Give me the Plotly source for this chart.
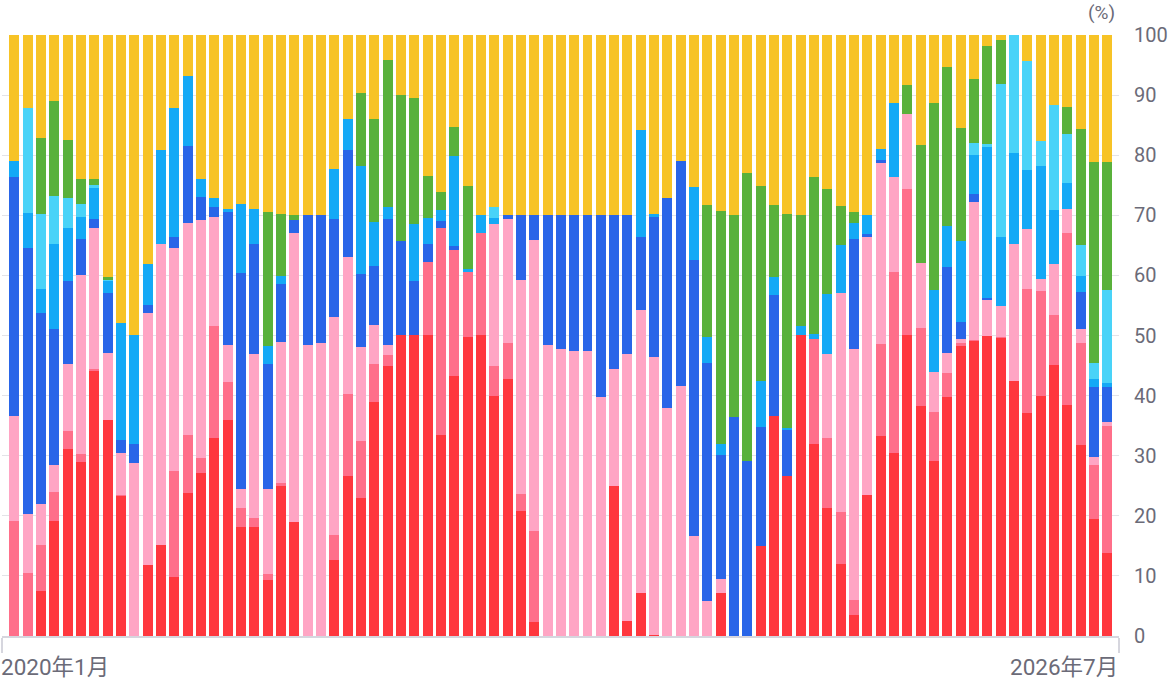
import plotly.graph_objects as go

# 83 periods, only the first and last are labelled on the chart
periods = list(range(83))
first_label = "2020年1月"
last_label = "2026年7月"

red = [0, 0, 7.5, 19.2, 31.1, 29.0, 44.1, 36.0, 23.3, 0,
       11.8, 15.2, 9.8, 23.8, 27.2, 33.0, 35.9, 18.2, 18.2, 9.4,
       25.0, 18.9, 0, 0, 12.6, 26.6, 23.0, 38.9, 45.0, 50.1,
       50.1, 50.1, 33.4, 43.3, 49.7, 50.1, 39.9, 42.8, 20.8, 2.3,
       0, 0, 0, 0, 0, 24.9, 2.5, 7.1, 0.2, 0,
       0, 0, 0, 7.1, 0, 0, 15.0, 36.6, 26.6, 50.1,
       31.9, 21.3, 12.0, 3.5, 23.5, 33.2, 30.5, 50.1, 38.2, 29.2,
       39.7, 48.2, 49.1, 50.0, 49.7, 42.5, 37.1, 39.9, 45.1, 38.5,
       31.8, 19.4, 13.8]

salmon = [19.1, 10.5, 7.6, 4.8, 3.0, 1.3, 0.4, 0, 0.2, 0,
          0, 0, 17.7, 9.6, 2.5, 18.5, 6.3, 3.1, 1.4, 0.9,
          0.4, 0, 0, 0, 4.2, 13.7, 9.5, 6.3, 1.8, 0,
          0, 12.1, 34.5, 20.9, 10.8, 17.0, 5.1, 6.0, 2.9, 15.1,
          0, 0, 0, 0, 0, 0, 0, 0, 0, 0,
          0, 0, 0, 0, 0, 0, 0, 0, 0, 0,
          17.5, 11.6, 8.6, 2.5, 0, 15.4, 30.1, 24.2, 13.1, 8.0,
          4.0, 0.6, 0.2, 0, 0.1, 0, 20.7, 17.5, 8.3, 28.5,
          17.0, 9.1, 21.2]

pink = [17.5, 9.8, 6.9, 4.5, 11.1, 29.8, 23.4, 11.1, 6.9, 28.8,
        42.0, 50.1, 37.1, 35.3, 39.6, 18.2, 6.3, 3.2, 27.3, 14.2,
        23.5, 48.2, 48.5, 48.7, 36.3, 22.8, 15.6, 6.6, 1.6, 0,
        0, 0, 0, 0, 0, 0, 23.5, 20.6, 35.6, 48.5,
        48.5, 47.7, 47.5, 47.5, 39.8, 19.5, 44.5, 47.1, 46.3, 37.9,
        41.6, 16.6, 5.8, 2.4, 0, 0, 0, 0, 0, 0,
        0, 14.0, 36.5, 41.7, 42.9, 30.1, 15.8, 12.6, 10.7, 6.8,
        3.4, 0.7, 22.9, 6.0, 5.1, 22.8, 9.9, 2.0, 8.5, 4.0,
        2.3, 1.3, 0.6]

blue = [39.7, 44.3, 31.8, 22.5, 13.9, 6.0, 1.5, 10.0, 2.2, 3.1,
        1.2, 0, 1.8, 12.8, 3.7, 1.7, 22.1, 35.9, 18.4, 20.7,
        9.6, 2.2, 21.5, 21.3, 16.3, 17.7, 12.1, 9.8, 21.0, 15.6,
        8.9, 3.1, 1.2, 0.7, 0, 0, 0, 0.6, 10.7, 4.1,
        21.5, 22.3, 22.5, 22.5, 30.2, 25.6, 23.0, 12.2, 23.3, 34.9,
        37.4, 45.9, 39.7, 20.7, 36.4, 29.2, 19.7, 20.1, 7.6, 0,
        0, 0, 0, 18.4, 0.5, 0.5, 0, 0, 0, 0,
        14.3, 2.7, 1.3, 0.2, 0, 0, 0, 0, 0, 0,
        6.2, 11.6, 5.8]

light_blue = [2.8, 5.8, 4.0, 14.3, 8.8, 3.7, 5.2, 2.0, 19.4, 18.2,
              6.9, 15.6, 21.5, 11.7, 3.1, 1.4, 0.4, 11.5, 5.7, 3.0,
              1.4, 0, 0, 0, 8.3, 5.2, 18.0, 7.3, 1.9, 0,
              9.5, 4.2, 1.8, 14.9, 0.6, 2.9, 1.1, 0, 0, 0,
              0, 0, 0, 0, 0, 0, 0, 17.8, 0.5, 0,
              0, 12.2, 4.2, 1.7, 0, 0, 7.7, 3.0, 0.4, 1.5,
              0.9, 10.0, 8.0, 2.6, 3.1, 1.9, 12.3, 0, 0, 13.5,
              6.8, 13.6, 6.6, 25.2, 11.5, 15.1, 9.9, 18.8, 8.9, 4.3,
              2.6, 1.4, 0.7]

cyan = [0, 17.5, 12.5, 7.9, 4.9, 2.1, 0.4, 0.2, 0, 0,
        0, 0, 0, 0, 0, 0, 0, 0, 0, 0,
        0, 0, 0, 0, 0, 0, 0, 0, 0, 0,
        0, 0, 0, 0, 0, 0, 1.7, 0, 0, 0,
        0, 0, 0, 0, 0, 0, 0, 0, 0, 0,
        0, 0, 0, 0, 0, 0, 0, 0, 0, 0,
        0, 0, 0, 0, 0, 0, 0, 0, 0, 0,
        0, 0, 1.9, 0.4, 25.4, 19.6, 18.1, 4.1, 17.5, 8.3,
        5.1, 2.7, 15.5]

green = [0, 0, 12.5, 15.8, 9.8, 4.2, 1.0, 0.4, 0, 0,
         0, 0, 0, 0, 0, 0, 0, 0, 0, 22.3,
         10.3, 0.7, 0, 0, 0, 0, 12.2, 17.1, 24.6, 24.4,
         21.0, 7.1, 2.9, 4.9, 13.8, 0, 0, 0, 0, 0,
         0, 0, 0, 0, 0, 0, 0, 0, 0, 0,
         0, 0, 22.0, 38.8, 33.6, 47.8, 32.4, 12.0, 35.6, 18.4,
         26.0, 17.4, 6.5, 1.8, 0, 0, 0, 4.8, 19.7, 31.2,
         26.4, 18.8, 10.6, 16.3, 7.3, 0, 0, 0, 0, 4.5,
         19.3, 33.4, 21.3]

yellow = [20.9, 12.1, 17.2, 11.0, 17.4, 23.9, 24.0, 40.3, 48.0, 49.9,
          38.1, 19.1, 12.1, 6.8, 23.9, 27.2, 29.0, 28.1, 29.0, 29.5,
          29.8, 30.0, 30.0, 30.0, 22.3, 14.0, 9.6, 14.0, 4.1, 9.9,
          10.5, 23.4, 26.2, 15.3, 25.1, 30.0, 28.7, 30.0, 30.0, 30.0,
          30.0, 30.0, 30.0, 30.0, 30.0, 30.0, 30.0, 15.8, 29.7, 27.2,
          21.0, 25.3, 28.3, 29.3, 30.0, 23.0, 25.2, 28.3, 29.8, 30.0,
          23.7, 25.7, 28.4, 29.5, 30.0, 18.9, 11.3, 8.3, 18.3, 11.3,
          5.4, 15.4, 7.4, 1.9, 0.9, 0, 4.3, 17.7, 11.7, 11.9,
          15.7, 21.1, 21.1]

series = [
    (red, "#ff373e"),
    (salmon, "#ff6f8a"),
    (pink, "#ffa5c4"),
    (blue, "#2965e8"),
    (light_blue, "#14a9f6"),
    (cyan, "#49d3f8"),
    (green, "#59b13b"),
    (yellow, "#f7c326"),
]

fig = go.Figure()
for vals, col in series:
    fig.add_trace(go.Bar(x=periods, y=vals, marker_color=col,
                         marker_line_width=0, showlegend=False))

axis_grey = "#d6d6de"
text_grey = "#6b6b78"
font_family = "Roboto, Noto Sans CJK JP, sans-serif"

fig.update_layout(
    width=1168, height=680,
    margin=dict(l=2, r=49, t=35, b=44, autoexpand=False),
    barmode="stack", bargap=0.25,
    plot_bgcolor="white", paper_bgcolor="white",
    font=dict(family=font_family, size=20, color=text_grey),
)

fig.update_xaxes(
    range=[-0.92, 82.87], automargin=False,
    showgrid=False, zeroline=False,
    showline=True, linecolor=axis_grey, linewidth=2,
    tickvals=[-0.92, 82.87], ticks="outside", ticklen=15,
    tickwidth=2, tickcolor=axis_grey, showticklabels=False,
)

fig.update_yaxes(
    range=[0, 100], side="right", automargin=False,
    tickvals=list(range(0, 101, 10)),
    showgrid=True, gridcolor="#e3e3e8", gridwidth=1,
    zeroline=False, showline=False, ticks="",
    ticklabelstandoff=14,
    tickfont=dict(size=20, color=text_grey),
)

fig.add_annotation(text=first_label, xref="paper", yref="paper",
                   x=0, y=0, xanchor="left", yanchor="middle",
                   xshift=-3, yshift=-31, showarrow=False,
                   font=dict(size=22.5, color=text_grey))
fig.add_annotation(text=last_label, xref="paper", yref="paper",
                   x=1, y=0, xanchor="right", yanchor="middle",
                   xshift=1, yshift=-31, showarrow=False,
                   font=dict(size=22.5, color=text_grey))
fig.add_annotation(text="(%)", xref="paper", yref="paper",
                   x=1, y=1, xanchor="right", yanchor="middle",
                   xshift=-2, yshift=23, showarrow=False,
                   font=dict(size=19, color=text_grey))

# the page body has a default 8px margin; drop it so the figure sits at 0,0
fig.write_html("out.html", config={"displayModeBar": False},
               post_script="document.body.style.margin='0';")
